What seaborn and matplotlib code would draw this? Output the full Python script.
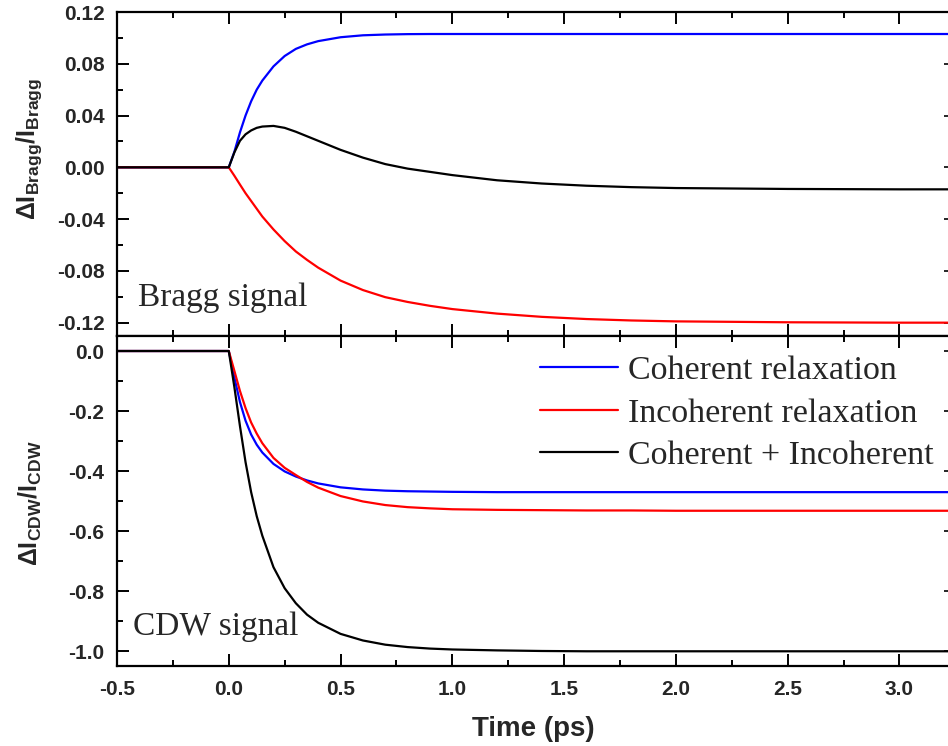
import matplotlib
matplotlib.use("Agg")
import matplotlib.pyplot as plt
from matplotlib.lines import Line2D
from matplotlib.ticker import MultipleLocator, FormatStrFormatter
import pandas as pd
import seaborn as sns

# Time axis (ps) shared by all traces
time_ps = [-0.5, 0.0, 0.025, 0.05, 0.075, 0.1, 0.125, 0.15, 0.2, 0.25, 0.3, 0.35,
           0.4, 0.5, 0.6, 0.7, 0.8, 0.9, 1.0, 1.2, 1.4, 1.6, 1.8, 2.0, 2.5, 3.0, 3.25]

# Bragg peak intensity change
bragg_coherent = [0, 0, 0.012, 0.027, 0.040, 0.051, 0.060, 0.067, 0.078, 0.086, 0.0915,
                  0.095, 0.0975, 0.1005, 0.102, 0.1026, 0.1029, 0.103, 0.103, 0.103,
                  0.103, 0.103, 0.103, 0.103, 0.103, 0.103, 0.103]
bragg_incoherent = [0, 0, -0.0065, -0.0133, -0.020, -0.026, -0.032, -0.038, -0.048, -0.057,
                    -0.065, -0.0715, -0.0775, -0.0875, -0.0948, -0.1003, -0.104, -0.107,
                    -0.1095, -0.113, -0.1155, -0.1172, -0.1183, -0.119, -0.1197, -0.120, -0.120]
bragg_total = [0, 0, 0.0115, 0.0205, 0.0255, 0.0285, 0.0305, 0.0315, 0.0320, 0.0305,
               0.0275, 0.024, 0.0205, 0.0135, 0.0075, 0.0025, -0.001, -0.0035, -0.006,
               -0.010, -0.0125, -0.0142, -0.0153, -0.016, -0.0167, -0.017, -0.017]

# CDW superlattice peak intensity change
cdw_coherent = [0, 0, -0.088, -0.170, -0.232, -0.278, -0.312, -0.338, -0.376, -0.401,
                -0.418, -0.431, -0.441, -0.454, -0.461, -0.465, -0.467, -0.468, -0.469,
                -0.470, -0.470, -0.470, -0.470, -0.470, -0.470, -0.470, -0.470]
cdw_incoherent = [0, 0, -0.066, -0.133, -0.190, -0.238, -0.275, -0.307, -0.356, -0.389,
                  -0.413, -0.436, -0.455, -0.483, -0.501, -0.513, -0.520, -0.524, -0.527,
                  -0.529, -0.530, -0.531, -0.531, -0.532, -0.532, -0.532, -0.532]
cdw_total = [0, 0, -0.120, -0.250, -0.370, -0.470, -0.550, -0.615, -0.720, -0.790,
             -0.840, -0.878, -0.905, -0.942, -0.964, -0.978, -0.986, -0.991, -0.994,
             -0.997, -0.999, -1.0, -1.0, -1.0, -1.0, -1.0, -1.0]

series_labels = ["Coherent relaxation", "Incoherent relaxation", "Coherent + Incoherent"]
series_colors = ["#0000ff", "#ff0000", "#000000"]

bragg_yticks = [-0.12, -0.08, -0.04, 0.00, 0.04, 0.08, 0.12]
cdw_yticks = [-1.0, -0.8, -0.6, -0.4, -0.2, 0.0]
time_ticks = [-0.5, 0.0, 0.5, 1.0, 1.5, 2.0, 2.5, 3.0]

sns.set_style("ticks")
plt.rcParams.update({
    "font.family": ["Liberation Sans", "DejaVu Sans"],
    "font.weight": "bold",
    "axes.unicode_minus": False,
    "mathtext.fontset": "custom",
    "mathtext.rm": "Liberation Sans:bold",
    "mathtext.bf": "Liberation Sans:bold",
    "mathtext.it": "Liberation Sans:bold",
    "axes.linewidth": 1.6,
    "axes.edgecolor": "black",
})


def long_form(curves):
    frames = []
    for label, values in zip(series_labels, curves):
        frames.append(pd.DataFrame({"t": time_ps, "v": values, "series": label}))
    return pd.concat(frames, ignore_index=True)


palette = dict(zip(series_labels, series_colors))

fig = plt.figure(figsize=(9.48, 7.46), dpi=100)
W, H = 948, 746
left, right = 117, 950
ax_top = fig.add_axes([left / W, 1 - 336 / H, (right - left) / W, 324 / H])
ax_bot = fig.add_axes([left / W, 1 - 666 / H, (right - left) / W, 330 / H])

for ax, curves in ((ax_top, [bragg_coherent, bragg_incoherent, bragg_total]),
                   (ax_bot, [cdw_coherent, cdw_incoherent, cdw_total])):
    sns.lineplot(data=long_form(curves), x="t", y="v", hue="series",
                 hue_order=series_labels, palette=palette, estimator=None,
                 linewidth=1.6, legend=False, ax=ax)

# Axis ranges and ticks
for ax in (ax_top, ax_bot):
    ax.set_xlim(-0.5, (right - 228.3) / 223.7)
    ax.set_xticks(time_ticks)
    ax.xaxis.set_minor_locator(MultipleLocator(0.25))
    ax.xaxis.set_major_formatter(FormatStrFormatter("%.1f"))
    ax.tick_params(axis="both", which="both", direction="in", top=True,
                   right=False, width=1.4, color="black", labelsize=15)
    ax.tick_params(which="major", length=8.5)
    ax.tick_params(which="minor", length=4.3)
    ax.tick_params(axis="y", pad=9)
    ax.tick_params(axis="x", pad=10)
    for lab in ax.get_xticklabels() + ax.get_yticklabels():
        lab.set_fontweight("bold")
    ax.set_xlabel("")
    ax.set_ylabel("")

ax_top.set_ylim(-0.1303, 0.12)
ax_top.set_yticks(bragg_yticks)
ax_top.yaxis.set_minor_locator(MultipleLocator(0.02))
ax_top.yaxis.set_major_formatter(FormatStrFormatter("%.2f"))
ax_top.tick_params(axis="x", labelbottom=False)

ax_bot.set_ylim(-1.049, 0.05)
ax_bot.set_yticks(cdw_yticks)
ax_bot.yaxis.set_minor_locator(MultipleLocator(0.1))
ax_bot.yaxis.set_major_formatter(FormatStrFormatter("%.1f"))

# Short right-hand ticks without labels
for ax, ticks in ((ax_top, bragg_yticks), (ax_bot, cdw_yticks)):
    sec = ax.secondary_yaxis("right")
    sec.set_yticks(ticks)
    sec.tick_params(direction="in", length=4.3, width=1.4, labelright=False)
    sec.spines["right"].set_linewidth(1.6)

ax_top.set_ylabel(r"$\mathbf{\Delta I_{Bragg}/I_{Bragg}}$", fontsize=18)
ax_top.yaxis.set_label_coords(-0.088, 0.577)
ax_bot.set_ylabel(r"$\mathbf{\Delta I_{CDW}/I_{CDW}}$", fontsize=18)
ax_bot.yaxis.set_label_coords(-0.088, 0.494)
ax_bot.set_xlabel("Time (ps)", fontsize=20, fontweight="bold", labelpad=12)

serif = ["Liberation Serif", "DejaVu Serif"]
ax_top.text(-0.408, -0.1072, "Bragg signal", family=serif, fontweight="normal",
            fontsize=24, va="baseline", ha="left")
ax_bot.text(-0.43, -0.947, "CDW signal", family=serif, fontweight="normal",
            fontsize=24, va="baseline", ha="left")

handles = [Line2D([], [], color=c, linewidth=1.6) for c in series_colors]
leg = ax_bot.legend(handles, series_labels, loc="upper left",
                    bbox_to_anchor=(540 / W, 1 - 355 / H),
                    bbox_transform=fig.transFigure, frameon=False,
                    borderpad=0, borderaxespad=0, handlelength=2.3,
                    handletextpad=0.3, labelspacing=0.35,
                    prop={"family": serif, "size": 24.5, "weight": "normal"})

fig.savefig("out.png", dpi=100)
